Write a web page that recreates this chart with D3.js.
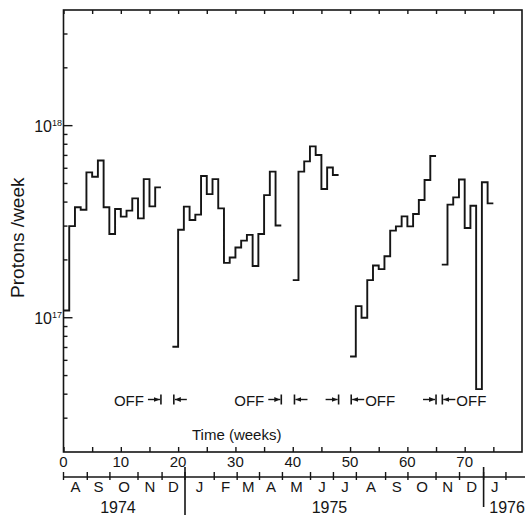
<!DOCTYPE html>
<html>
<head>
<meta charset="utf-8">
<script src="https://cdn.jsdelivr.net/npm/d3@7"></script>
<style>
  body { margin: 0; background: #fff; }
  svg { display: block; font-family: "Liberation Sans", Arial, sans-serif; }
</style>
</head>
<body>
<svg id="chart" width="525" height="515"></svg>
<script>
// weekly proton counts, one array per "on" period, starting week given separately
const block1Start = 0;
const block1 = [1.09e17, 3.0e17, 3.76e17, 3.65e17, 5.71e17, 5.42e17, 6.58e17, 3.76e17, 2.73e17,
    3.68e17, 3.36e17, 3.61e17, 4.18e17, 3.29e17, 5.27e17, 3.80e17, 4.77e17];
const block2Start = 19;
const block2 = [7.06e16, 2.87e17, 3.79e17, 3.23e17, 3.44e17, 5.47e17, 4.40e17, 5.27e17, 3.71e17,
    1.93e17, 2.06e17, 2.32e17, 2.52e17, 2.70e17, 1.86e17, 2.73e17, 4.35e17, 5.76e17, 3.02e17];
const block3Start = 40;
const block3 = [1.57e17, 5.76e17, 6.52e17, 7.80e17, 7.04e17, 4.68e17, 6.06e17, 5.53e17];
const block4Start = 50;
const block4 = [6.28e16, 1.15e17, 1.0e17, 1.57e17, 1.87e17, 1.79e17, 2.09e17, 2.84e17, 2.99e17,
    3.37e17, 2.99e17, 3.47e17, 4.10e17, 5.21e17, 6.95e17];
const block5Start = 66;
const block5 = [1.89e17, 3.88e17, 4.23e17, 5.24e17, 2.93e17, 3.83e17, 4.25e16, 5.07e17, 3.94e17];

// off periods (weeks) and which side the OFF word sits
const offFrom = [17, 38, 48, 65];
const offTo = [19.25, 40.3, 50.2, 66.1];
const offSide = ["left", "left", "right", "right"];

const weekTicks = d3.range(0, 80, 5);
const weekLabels = [0, 10, 20, 30, 40, 50, 60, 70];

// month boundaries in weeks, month letters between them
const monthEdges = [0, 4.15, 8.1, 13.0, 17.2, 21.2, 26.3, 30.3, 34.2, 38.2, 43.1, 47.1,
    51.1, 56.2, 60.1, 65.0, 69.1, 73.3, 77.2];
const monthNames = ["A", "S", "O", "N", "D", "J", "F", "M", "A", "M", "J", "J",
    "A", "S", "O", "N", "D", "J"];
const yearNames = ["1974", "1975", "1976"];
const yearAt = [9.5, 46.4, 77.4];
const yearBreaks = [21.2, 73.3];

const x = d3.scaleLinear().domain([0, 80]).range([63.5, 522]);
const y = d3.scaleLog().domain([2e16, 4e18]).range([452, 10]);

const svg = d3.select("#chart");
const ink = "#151515";

// frame
svg.append("rect")
    .attr("x", x(0)).attr("y", y(4e18))
    .attr("width", x(80) - x(0)).attr("height", y(2e16) - y(4e18))
    .attr("fill", "none").attr("stroke", ink).attr("stroke-width", 1.6);

// bottom and top ticks (inward)
svg.append("g")
    .attr("transform", `translate(0,${y(2e16)})`)
    .call(d3.axisTop(x).tickValues(weekTicks).tickSize(5).tickFormat(""))
    .call(g => g.select(".domain").remove())
    .selectAll("line").attr("stroke", ink).attr("stroke-width", 1.4);
svg.append("g")
    .attr("transform", `translate(0,${y(4e18)})`)
    .call(d3.axisBottom(x).tickValues(weekTicks).tickSize(4).tickFormat(""))
    .call(g => g.select(".domain").remove())
    .selectAll("line").attr("stroke", ink).attr("stroke-width", 1.4);

svg.append("g").selectAll("text")
    .data(weekLabels)
    .enter().append("text")
    .attr("x", d => x(d))
    .attr("y", 467)
    .attr("text-anchor", "middle")
    .attr("font-size", 15)
    .attr("fill", ink)
    .text(d => d);

// left axis: minor ticks 2..9, major at decades
const yTicks = [];
[16, 17, 18].forEach(p => d3.range(1, 10).forEach(m => {
    const v = m * Math.pow(10, p);
    if (v > 2e16 && v < 4e18) yTicks.push(v);
}));
svg.append("g").selectAll("line")
    .data(yTicks)
    .enter().append("line")
    .attr("x1", x(0))
    .attr("x2", d => x(0) + (Math.abs(Math.log10(d) % 1) < 1e-9 ? 9 : 4))
    .attr("y1", d => y(d)).attr("y2", d => y(d))
    .attr("stroke", ink).attr("stroke-width", 1.4);

const decLabels = svg.append("g").selectAll("text")
    .data([1e17, 1e18])
    .enter().append("text")
    .attr("x", 62)
    .attr("y", d => y(d) + 6.5)
    .attr("text-anchor", "end")
    .attr("font-size", 16)
    .attr("fill", ink);
decLabels.append("tspan").text("10");
decLabels.append("tspan")
    .attr("font-size", 9)
    .attr("dy", -6)
    .text(d => Math.round(Math.log10(d)));

svg.append("text")
    .attr("transform", `translate(24,${(y(1e18) + y(1e17)) / 2 + 16}) rotate(-90)`)
    .attr("text-anchor", "middle")
    .attr("font-size", 19)
    .attr("fill", ink)
    .text("Protons /week");

// step histograms
const step = d3.line()
    .x(d => x(d[0]))
    .y(d => y(d[1]))
    .curve(d3.curveStepAfter);
[[block1Start, block1], [block2Start, block2], [block3Start, block3],
 [block4Start, block4], [block5Start, block5]].forEach(([s, vals]) => {
    const pts = vals.map((v, i) => [s + i, v]);
    pts.push([s + vals.length, vals[vals.length - 1]]);
    svg.append("path")
        .attr("d", step(pts))
        .attr("fill", "none")
        .attr("stroke", ink)
        .attr("stroke-width", 1.9);
});

// OFF markers
const arrowY = 399.5;
svg.append("defs").append("marker")
    .attr("id", "head")
    .attr("viewBox", "0 0 10 10")
    .attr("refX", 10).attr("refY", 5)
    .attr("markerWidth", 6).attr("markerHeight", 6)
    .attr("markerUnits", "userSpaceOnUse")
    .attr("orient", "auto")
    .append("path").attr("d", "M0,1L10,5L0,9Z").attr("fill", ink);

const offG = svg.append("g");
offFrom.forEach((f, i) => {
    const a = x(f), b = x(offTo[i]);
    // → |
    offG.append("line").attr("x1", a - 13).attr("x2", a - 1)
        .attr("y1", arrowY).attr("y2", arrowY)
        .attr("stroke", ink).attr("stroke-width", 1.4).attr("marker-end", "url(#head)");
    offG.append("line").attr("x1", a).attr("x2", a)
        .attr("y1", arrowY - 5).attr("y2", arrowY + 5)
        .attr("stroke", ink).attr("stroke-width", 1.6);
    // | ←
    offG.append("line").attr("x1", b + 13).attr("x2", b + 1)
        .attr("y1", arrowY).attr("y2", arrowY)
        .attr("stroke", ink).attr("stroke-width", 1.4).attr("marker-end", "url(#head)");
    offG.append("line").attr("x1", b).attr("x2", b)
        .attr("y1", arrowY - 5).attr("y2", arrowY + 5)
        .attr("stroke", ink).attr("stroke-width", 1.6);
    offG.append("text")
        .attr("x", offSide[i] === "left" ? a - 17 : b + 14)
        .attr("y", 405.5)
        .attr("text-anchor", offSide[i] === "left" ? "end" : "start")
        .attr("font-size", 15)
        .attr("fill", ink)
        .text("OFF");
});

svg.append("text")
    .attr("x", 192).attr("y", 440)
    .attr("font-size", 15)
    .attr("fill", ink)
    .text("Time (weeks)");

// month axis
const monthY = 477;
svg.append("line")
    .attr("x1", x(0)).attr("x2", 525)
    .attr("y1", monthY).attr("y2", monthY)
    .attr("stroke", ink).attr("stroke-width", 1.6);
svg.append("g").selectAll("line")
    .data(monthEdges)
    .enter().append("line")
    .attr("x1", d => x(d)).attr("x2", d => x(d))
    .attr("y1", monthY - 5).attr("y2", monthY + 3)
    .attr("stroke", ink).attr("stroke-width", 1.4);
svg.append("g").selectAll("text")
    .data(monthNames)
    .enter().append("text")
    .attr("x", (d, i) => (x(monthEdges[i]) + x(monthEdges[i + 1])) / 2)
    .attr("y", 492)
    .attr("text-anchor", "middle")
    .attr("font-size", 15)
    .attr("fill", ink)
    .text(d => d);
svg.append("g").selectAll("line")
    .data(yearBreaks)
    .enter().append("line")
    .attr("x1", d => x(d)).attr("x2", d => x(d))
    .attr("y1", 467).attr("y2", (d, i) => i === 0 ? 515 : 507)
    .attr("stroke", ink).attr("stroke-width", 1.6);
svg.append("g").selectAll("text")
    .data(yearNames)
    .enter().append("text")
    .attr("x", (d, i) => x(yearAt[i]))
    .attr("y", 513)
    .attr("text-anchor", "middle")
    .attr("font-size", 16)
    .attr("fill", ink)
    .text(d => d);
</script>
</body>
</html>
